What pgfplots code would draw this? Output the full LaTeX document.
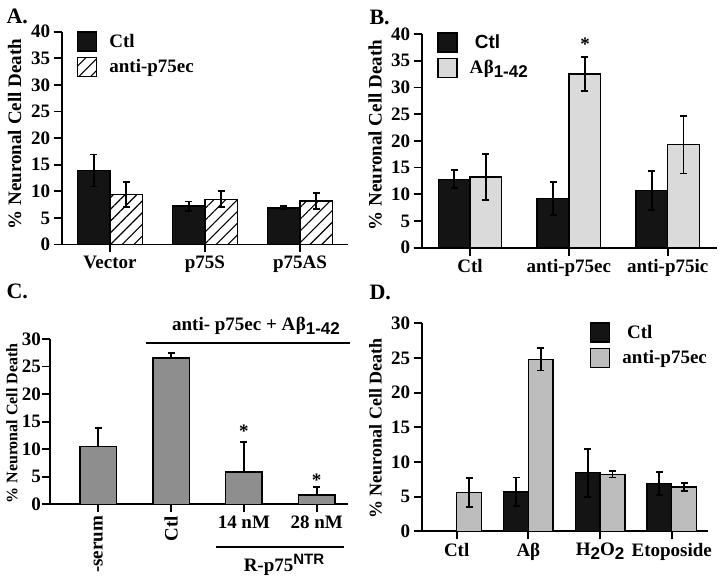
\documentclass[border=0pt]{standalone}
\usepackage{pgfplots}
\pgfplotsset{compat=1.18}
\usetikzlibrary{patterns.meta}
\usepackage{fontspec}
\setmainfont{Liberation Serif}
\setsansfont{Liberation Sans}
\newcommand\fs[1]{\fontsize{#1}{#1}\selectfont}
\newcommand\sub[1]{\raisebox{-0.45ex}{\fs{17}\sffamily\bfseries #1}}
\definecolor{barblack}{HTML}{141414}
\definecolor{lgray}{HTML}{DADADA}
\definecolor{mgray}{HTML}{8E8E8E}
\definecolor{dgray}{HTML}{BDBDBD}

\pgfplotsset{
  panel/.style={
    scale only axis, anchor=south west, clip=false,
    axis lines=left, axis line style={-, line width=1.8pt},
    tick align=outside, major tick length=8pt,
    every tick/.style={line width=1.8pt, black},
    ymin=0, ytick distance=5,
    /pgf/number format/assume math mode=true,
    tick label style={font=\fs{19}\bfseries},
    legend style={draw=none, fill=none, inner sep=0pt, outer sep=0pt,
      anchor=north west, font=\fs{19}\bfseries, row sep=5pt},
    legend cell align=left,
    /tikz/every odd column/.append style={column sep=10pt},
    error bars/error bar style={line width=1.8pt, black},
    error bars/error mark options={line width=1.8pt, mark size=3.5pt, black, rotate=90},
  },
  sq/.style={legend image code/.code={\draw[##1, line width=1.5pt] (0pt,-9.5pt) rectangle (19pt,9.5pt);}},
}

\begin{document}
\begin{tikzpicture}
\useasboundingbox (0pt,0pt) rectangle (720pt,578pt);

% ---------- A ----------
\begin{axis}[panel, at={(61.7pt,333.5pt)}, width=286.3pt, height=212.8pt,
  xmin=-0.508, xmax=2.505, ymax=40, ybar=0pt, bar width=0.34,
  xtick={0,1,2}, xticklabels={Vector, p75S, p75AS},
  ylabel={\% Neuronal Cell Death},
  ylabel style={at={(axis description cs:-0.164,0.519)}, anchor=center, font=\fs{19}\bfseries},
  legend style={at={(axis description cs:0.053,1.003)}}]
\addplot[sq, fill=barblack, draw=black, line width=1.5pt,
  error bars/.cd, y dir=both, y explicit]
  coordinates {(0,13.9) +- (0,3.0) (1,7.2) +- (0,0.9) (2,6.9) +- (0,0.3)};
\addplot[sq, fill=white, draw=black, line width=1.5pt,
  postaction={pattern={Lines[angle=45,distance=8.3pt,line width=1.1pt]}},
  error bars/.cd, y dir=both, y explicit]
  coordinates {(0,9.4) +- (0,2.4) (1,8.5) +- (0,1.5) (2,8.2) +- (0,1.5)};
\legend{Ctl, anti-p75ec}
\end{axis}

% ---------- B ----------
\begin{axis}[panel, at={(421.7pt,330.3pt)}, width=295pt, height=213.7pt,
  xmin=-0.489, xmax=2.496, ymax=40, ybar=0pt, bar width=0.32,
  xtick={0,1,2}, xticklabels={Ctl, anti-p75ec, anti-p75ic},
  ylabel={\% Neuronal Cell Death},
  ylabel style={at={(axis description cs:-0.158,0.527)}, anchor=center, font=\fs{19}\bfseries},
  legend style={at={(axis description cs:0.052,1.009)}}]
\addplot[sq, fill=barblack, draw=black, line width=1.5pt,
  error bars/.cd, y dir=both, y explicit]
  coordinates {(0,12.8) +- (0,1.7) (1,9.25) +- (0,3.1) (2,10.7) +- (0,3.6)};
\addplot[sq, fill=lgray, draw=black, line width=1.5pt,
  error bars/.cd, y dir=both, y explicit]
  coordinates {(0,13.2) +- (0,4.3) (1,32.5) +- (0,3.2) (2,19.3) +- (0,5.4)};
\legend{{\sffamily\bfseries\ Ctl}, {A\kern0.5ptβ\sub{1-42}}}
\node[font=\fs{19}\bfseries, anchor=base] at (axis cs:1.164,37) {*};
\end{axis}

% ---------- C ----------
\begin{axis}[panel, at={(50pt,73.7pt)}, width=298.3pt, height=165.3pt,
  xmin=-0.663, xmax=3.434, ymax=30, ybar, bar width=0.5,
  xtick={0,1,2,3},
  xticklabels={\rotatebox{90}{-serum}, \rotatebox{90}{Ctl}, 14 nM, 28 nM},
  yticklabel style={xshift=2.5pt},
  ylabel={\% Neuronal Cell Death},
  ylabel style={at={(axis description cs:-0.128,0.49)}, anchor=center, font=\fs{16}\bfseries}]
\addplot[fill=mgray, draw=black, line width=1.5pt,
  error bars/.cd, y dir=plus, y explicit]
  coordinates {(0,10.5) +- (0,3.4) (1,26.55) +- (0,0.85) (2,5.9) +- (0,5.4) (3,1.7) +- (0,1.4)};
\node[font=\fs{19}\bfseries, anchor=base] at (axis cs:2,12.2) {*};
\node[font=\fs{19}\bfseries, anchor=base] at (axis cs:3,3.2) {*};
\end{axis}

% ---------- D ----------
\begin{axis}[panel, at={(421.7pt,46.7pt)}, width=286.6pt, height=208pt,
  xmin=-0.488, xmax=3.51, ymax=30, ybar=0pt, bar width=0.345,
  xtick={0,1,2,3}, xticklabels={Ctl, Aβ, H\sub{2}O\sub{2}, Etoposide},
  ylabel={\% Neuronal Cell Death},
  ylabel style={at={(axis description cs:-0.161,0.494)}, anchor=center, font=\fs{18}\bfseries},
  legend style={at={(axis description cs:0.587,1.005)}}]
\addplot[sq, fill=barblack, draw=black, line width=1.5pt,
  error bars/.cd, y dir=both, y explicit]
  coordinates {(1,5.7) +- (0,2.05) (2,8.45) +- (0,3.45) (3,6.9) +- (0,1.7)};
\addplot[sq, fill=dgray, draw=black, line width=1.5pt,
  error bars/.cd, y dir=both, y explicit]
  coordinates {(0,5.6) +- (0,2.1) (1,24.8) +- (0,1.6) (2,8.2) +- (0,0.45) (3,6.4) +- (0,0.55)};
\legend{\ Ctl, anti-p75ec}
\end{axis}

% ---------- panel letters and group annotations ----------
\node[anchor=west, font=\fs{22}\bfseries] at (3pt,562pt) {A.};
\node[anchor=west, font=\fs{22}\bfseries] at (366pt,561pt) {B.};
\node[anchor=west, font=\fs{22}\bfseries] at (3pt,287pt) {C.};
\node[anchor=west, font=\fs{22}\bfseries] at (366pt,286pt) {D.};

\draw[line width=1.8pt] (146pt,234.7pt) -- (350pt,234.7pt);
\node[font=\fs{19}\bfseries] at (256pt,252pt) {anti- p75ec + A\kern0.5ptβ\sub{1-42}};
\draw[line width=1.8pt] (216pt,31.3pt) -- (344pt,31.3pt);
\node[font=\fs{19}\bfseries] at (284pt,13pt) {R-p75\raisebox{0.75ex}{\fs{15}\sffamily\bfseries NTR}};
\end{tikzpicture}
\end{document}
